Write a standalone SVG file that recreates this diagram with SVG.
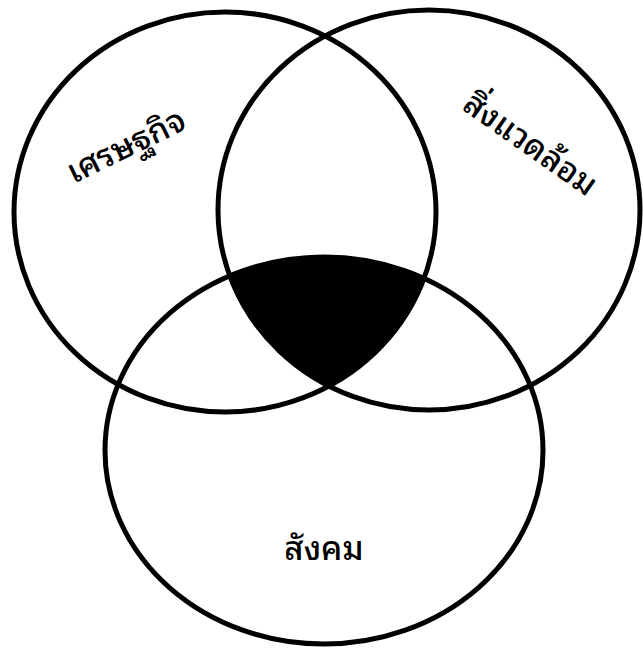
<svg xmlns="http://www.w3.org/2000/svg" width="643" height="650" viewBox="0 0 643 650">
<style>
.c{fill:none;stroke:#000;stroke-width:5}
.t{font-family:"Noto Sans Thai Looped","Noto Sans Thai","Noto Sans","Liberation Sans",sans-serif;font-size:33px;font-weight:500;fill:#000;text-anchor:middle}
</style>
<defs>
<clipPath id="cL"><ellipse cx="225" cy="212" rx="211" ry="200"/></clipPath>
<clipPath id="cR"><ellipse cx="429" cy="210" rx="211" ry="200"/></clipPath>
</defs>
<rect width="643" height="650" fill="#fff"/>
<g id="center-region" clip-path="url(#cL)"><ellipse cx="324" cy="450.5" rx="219" ry="193.5" fill="#000" clip-path="url(#cR)"/></g>
<g id="connectors"></g>
<g id="economy"><ellipse class="c" cx="225" cy="212" rx="211" ry="200"/><text class="t" transform="translate(131,156) rotate(-26)">เศรษฐกิจ</text></g>
<g id="environment"><ellipse class="c" cx="429" cy="210" rx="211" ry="200"/><text class="t" transform="translate(524,153) rotate(35)">สิ่งแวดล้อม</text></g>
<g id="society"><ellipse class="c" cx="324" cy="450.5" rx="219" ry="193.5"/><text class="t" x="324" y="560">สังคม</text></g>
</svg>
